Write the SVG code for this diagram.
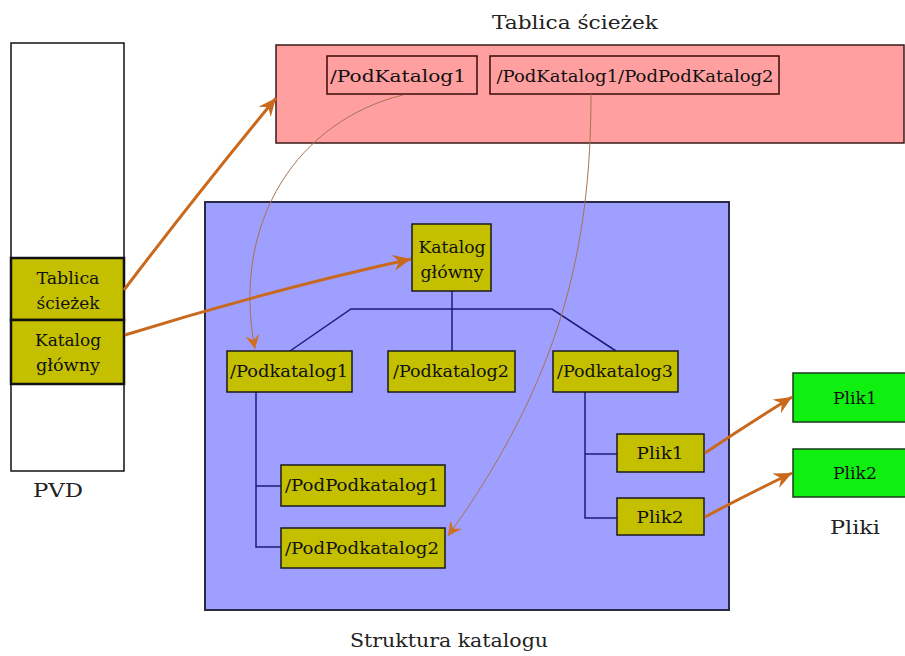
<svg xmlns="http://www.w3.org/2000/svg" width="905" height="656" viewBox="0 0 905 656">
  <style>
    text { font-family: "DejaVu Serif", "Liberation Serif", serif; font-size: 17px; fill: #111; text-anchor: middle; }
    .lbl { font-size: 19px; fill: #222; }
    .node { fill: #c4c000; stroke: #1a1a1a; stroke-width: 1.5; }
    .pvdcell { fill: #c4c000; stroke: #111; stroke-width: 2.5; }
    .pink { fill: #ff9f9f; stroke: #3a1a1a; stroke-width: 1.5; }
    .pinkcell { fill: none; stroke: #3a0a0a; stroke-width: 1.5; }
    .file { fill: #10f010; stroke: #1a3a1a; stroke-width: 1.5; }
    .tree { fill: none; stroke: #1c1c78; stroke-width: 1.5; }
    .ptr { fill: none; stroke: #c8691e; stroke-width: 3; marker-end: url(#head); }
    .ref { fill: none; stroke: #a87450; stroke-width: 1; marker-end: url(#headSmall); }
  </style>
  <defs>
    <marker id="head" markerUnits="userSpaceOnUse" markerWidth="20" markerHeight="16" refX="18" refY="8" orient="auto">
      <path d="M0,0 L18,8 L0,16 L6,8 Z" fill="#c8691e"/>
    </marker>
    <marker id="headSmall" markerUnits="userSpaceOnUse" markerWidth="16" markerHeight="14" refX="14" refY="7" orient="auto">
      <path d="M0,0 L14,7 L0,14 L5,7 Z" fill="#d0701e"/>
    </marker>
  </defs>

  <rect width="905" height="656" fill="#fff"/>

  <!-- PVD column -->
  <g id="pvd">
    <rect x="11" y="43" width="113" height="428" fill="#fff" stroke="#111" stroke-width="1.5"/>
    <text x="58" y="497" class="lbl" textLength="50" lengthAdjust="spacingAndGlyphs">PVD</text>
  </g>
  <g id="pvd-tablica">
    <rect class="pvdcell" x="11" y="258" width="113" height="62"/>
    <text x="68" y="284" textLength="63" lengthAdjust="spacingAndGlyphs">Tablica</text>
    <text x="68" y="309" textLength="63" lengthAdjust="spacingAndGlyphs">ścieżek</text>
  </g>
  <g id="pvd-katalog">
    <rect class="pvdcell" x="11" y="320" width="113" height="64"/>
    <text x="68" y="346" textLength="66" lengthAdjust="spacingAndGlyphs">Katalog</text>
    <text x="68" y="371" textLength="64" lengthAdjust="spacingAndGlyphs">główny</text>
  </g>

  <!-- Path table -->
  <g id="tablica">
    <text x="575" y="29" class="lbl" textLength="166" lengthAdjust="spacingAndGlyphs">Tablica ścieżek</text>
    <rect class="pink" x="276" y="45" width="628" height="98"/>
  </g>
  <g id="tab-pk1">
    <rect class="pinkcell" x="327" y="56" width="150" height="38"/>
    <text x="398" y="82" textLength="136" lengthAdjust="spacingAndGlyphs">/PodKatalog1</text>
  </g>
  <g id="tab-ppk2">
    <rect class="pinkcell" x="490" y="56" width="289" height="38"/>
    <text x="635" y="82" textLength="277" lengthAdjust="spacingAndGlyphs">/PodKatalog1/PodPodKatalog2</text>
  </g>

  <!-- Directory structure -->
  <g id="struktura">
    <rect x="205" y="202" width="524" height="408" fill="#9f9fff" stroke="#2a2a44" stroke-width="2"/>
    <text x="449" y="647" class="lbl" textLength="198" lengthAdjust="spacingAndGlyphs">Struktura katalogu</text>
  </g>

  <g id="tree-lines">
    <path class="tree" d="M452,291 V351"/>
    <path class="tree" d="M290,351 L351,309 H552 L616,351"/>
    <path class="tree" d="M256,392 V547 H281 M256,486 H281"/>
    <path class="tree" d="M585,392 V518 H617 M585,454 H617"/>
  </g>

  <g id="root">
    <rect class="node" x="412" y="224" width="79" height="67"/>
    <text x="452" y="253" textLength="67" lengthAdjust="spacingAndGlyphs">Katalog</text>
    <text x="452" y="278" textLength="63" lengthAdjust="spacingAndGlyphs">główny</text>
  </g>
  <g id="podkatalog1">
    <rect class="node" x="227" y="351" width="125" height="41"/>
    <text x="289" y="377" textLength="118" lengthAdjust="spacingAndGlyphs">/Podkatalog1</text>
  </g>
  <g id="podkatalog2">
    <rect class="node" x="388" y="351" width="127" height="41"/>
    <text x="451" y="377" textLength="116" lengthAdjust="spacingAndGlyphs">/Podkatalog2</text>
  </g>
  <g id="podkatalog3">
    <rect class="node" x="553" y="351" width="125" height="41"/>
    <text x="615" y="377" textLength="116" lengthAdjust="spacingAndGlyphs">/Podkatalog3</text>
  </g>
  <g id="podpodkatalog1">
    <rect class="node" x="281" y="465" width="164" height="41"/>
    <text x="362" y="491" textLength="154" lengthAdjust="spacingAndGlyphs">/PodPodkatalog1</text>
  </g>
  <g id="podpodkatalog2">
    <rect class="node" x="281" y="528" width="164" height="40"/>
    <text x="362" y="554" textLength="154" lengthAdjust="spacingAndGlyphs">/PodPodkatalog2</text>
  </g>
  <g id="plik1-entry">
    <rect class="node" x="617" y="434" width="87" height="38"/>
    <text x="660" y="459" textLength="47" lengthAdjust="spacingAndGlyphs">Plik1</text>
  </g>
  <g id="plik2-entry">
    <rect class="node" x="617" y="498" width="87" height="37"/>
    <text x="660" y="523" textLength="47" lengthAdjust="spacingAndGlyphs">Plik2</text>
  </g>

  <!-- Files -->
  <g id="plik1">
    <rect class="file" x="793" y="373" width="120" height="49"/>
    <text x="855" y="404" textLength="44" lengthAdjust="spacingAndGlyphs">Plik1</text>
  </g>
  <g id="plik2">
    <rect class="file" x="793" y="449" width="120" height="48"/>
    <text x="855" y="479" textLength="44" lengthAdjust="spacingAndGlyphs">Plik2</text>
    <text x="855" y="534" class="lbl" textLength="50" lengthAdjust="spacingAndGlyphs">Pliki</text>
  </g>

  <!-- Pointers -->
  <g id="connectors">
    <path class="ptr" d="M124,290 Q200,190 276,98"/>
    <path class="ptr" d="M125,335 Q270,290 411,259"/>
    <path class="ptr" d="M705,453 Q748,424 792,397"/>
    <path class="ptr" d="M705,517 Q748,494 792,473"/>
    <path class="ref" d="M403,95 C300,120 230,220 255,349"/>
    <path class="ref" d="M591,94 C591,250 560,380 448,536"/>
  </g>
</svg>
